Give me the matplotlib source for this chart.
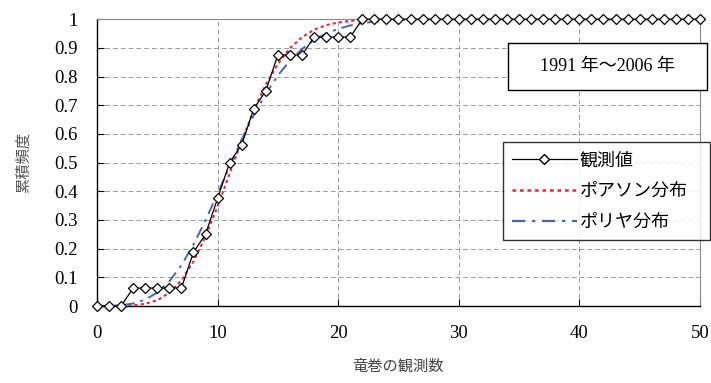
import matplotlib.pyplot as plt
from matplotlib.lines import Line2D
from matplotlib.patches import Rectangle

plt.rcParams["font.family"] = ["Liberation Serif", "Noto Sans CJK JP", "DejaVu Sans"]

# observed number of tornadoes per year (x) and cumulative frequency
counts = list(range(0, 51))
observed = [0, 0, 0, 0.0625, 0.0625, 0.0625, 0.0625, 0.0625, 0.1875, 0.25,
            0.375, 0.5, 0.5625, 0.6875, 0.75, 0.875, 0.875, 0.875, 0.9375, 0.9375,
            0.9375, 0.9375] + [1.0] * 29
poisson = [0.0, 0.0001, 0.0005, 0.0023, 0.0076, 0.0203, 0.0458, 0.0895, 0.155, 0.242,
           0.347, 0.462, 0.576, 0.682, 0.772, 0.844, 0.899, 0.937, 0.963, 0.979,
           0.988, 0.994, 0.997, 0.999, 0.9995] + [1.0] * 26
polya = [0.0001, 0.0006, 0.0027, 0.0087, 0.022, 0.047, 0.086, 0.142, 0.214, 0.299,
         0.392, 0.487, 0.580, 0.665, 0.740, 0.804, 0.855, 0.896, 0.927, 0.950,
         0.966, 0.978, 0.986, 0.991, 0.994, 0.997, 0.998, 0.999] + [1.0] * 23

xticks = [0, 10, 20, 30, 40, 50]
yticks = [0, 0.1, 0.2, 0.3, 0.4, 0.5, 0.6, 0.7, 0.8, 0.9, 1]
ytick_labels = ["0", "0.1", "0.2", "0.3", "0.4", "0.5", "0.6", "0.7", "0.8", "0.9", "1"]

fig = plt.figure(figsize=(7.11, 3.83), dpi=100)
ax = fig.add_axes([0.1364, 0.201, 0.8481, 0.749])

ax.plot(counts, poisson, color="#e02840", linestyle=(0, (1.5, 1.5)), linewidth=1.5, zorder=3)
ax.plot(counts, polya, color="#4a66a8", linestyle=(0, (6, 3, 1.5, 3)), linewidth=1.4, zorder=3)
ax.plot(counts, observed, color="black", linewidth=0.9, marker="D", markersize=5.5,
        markerfacecolor="white", markeredgecolor="black", markeredgewidth=0.9,
        zorder=4, clip_on=False)

ax.set_xlim(0, 50)
ax.set_ylim(0, 1)
ax.set_xticks(xticks)
ax.set_yticks(yticks)
ax.set_yticklabels(ytick_labels)
ax.tick_params(direction="in", length=5, labelsize=13.5, width=0.8, pad=14)
ax.tick_params(axis="x", pad=14)

ax.grid(True, color="#9a9a9a", linestyle=(0, (5, 3)), linewidth=0.7)
ax.set_axisbelow(True)
for side in ["top", "right"]:
    ax.spines[side].set_color("#8a8a8a")
    ax.spines[side].set_linewidth(0.8)
for side in ["left", "bottom"]:
    ax.spines[side].set_color("black")
    ax.spines[side].set_linewidth(1.0)

ax.set_xlabel("竜巻の観測数", family=["Noto Sans CJK JP"], fontsize=11, color="#444444", labelpad=11)
ax.set_ylabel("累積頻度", family=["Noto Sans CJK JP"], fontsize=11, color="#555555", labelpad=16)

# period label box
ax.add_patch(Rectangle((0.682, 0.753), 0.33, 0.163, transform=ax.transAxes, facecolor="white",
                       edgecolor="black", linewidth=1.0, clip_on=False, zorder=6))
ax.text(0.847, 0.835, "1991 年～2006 年", transform=ax.transAxes, ha="center", va="center",
        fontsize=13, family=["Liberation Serif", "Noto Sans CJK JP"], zorder=7)

handles = [
    Line2D([], [], color="black", linewidth=0.9, marker="D", markersize=5.5,
           markerfacecolor="white", markeredgecolor="black"),
    Line2D([], [], color="#e02840", linestyle=(0, (1.5, 1.5)), linewidth=1.8),
    Line2D([], [], color="#4a66a8", linestyle=(0, (6, 3, 1.5, 3)), linewidth=1.6),
]
leg = ax.legend(handles, ["観測値", "ポアソン分布", "ポリヤ分布"], loc="upper left",
                bbox_to_anchor=(0.673, 0.22, 0.344, 0.351), mode="expand", frameon=True,
                fancybox=False, prop={"family": ["Noto Sans CJK JP"], "size": 13},
                handlelength=3.6, handletextpad=0.15, borderpad=0.5, labelspacing=0.72,
                borderaxespad=0)
leg.get_frame().set_edgecolor("black")
leg.get_frame().set_linewidth(1.0)
leg.set_zorder(6)

fig.savefig("out.png", dpi=100)
